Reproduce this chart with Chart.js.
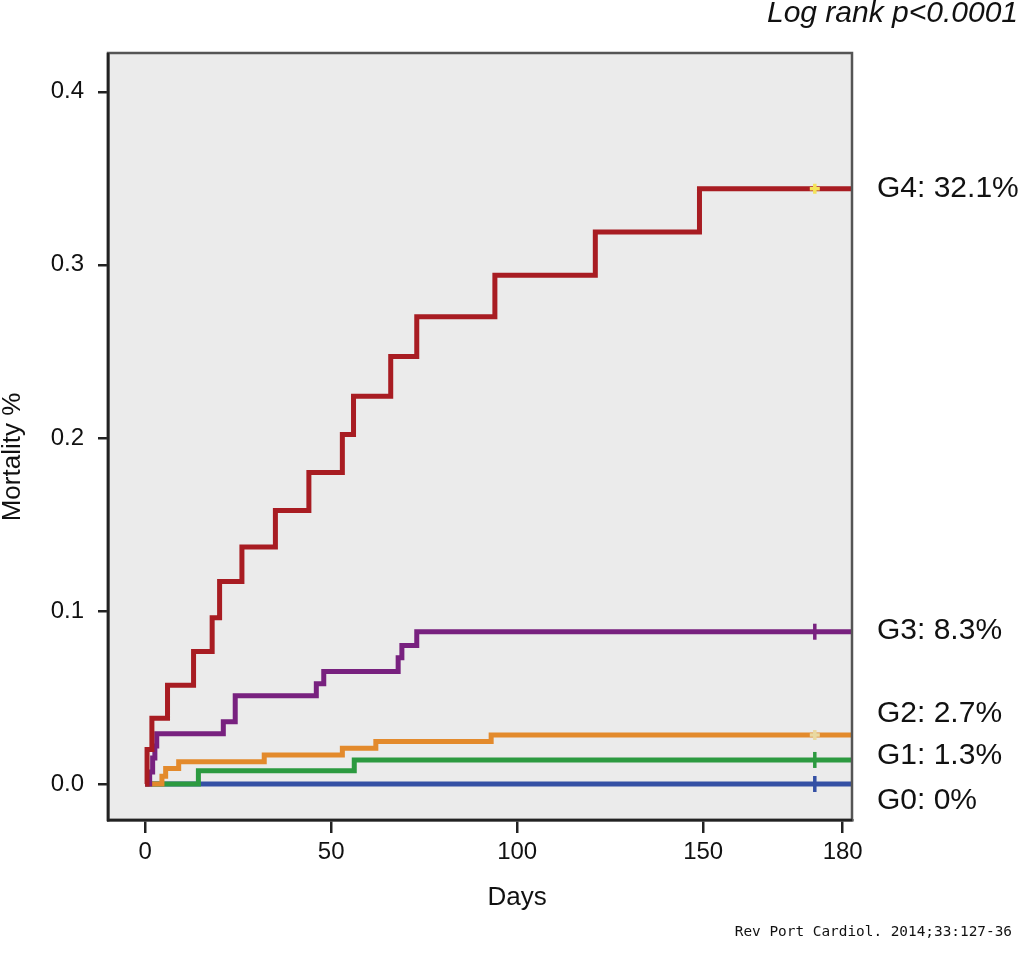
<!DOCTYPE html>
<html>
<head>
<meta charset="utf-8">
<script src="https://cdn.jsdelivr.net/npm/chart.js@4.4.1/dist/chart.umd.min.js"></script>
<style>
  html, body { margin: 0; padding: 0; background: #ffffff; }
  #wrap { position: relative; width: 1024px; height: 954px; }
</style>
</head>
<body>
<div id="wrap"><canvas id="c" width="1024" height="954"></canvas></div>
<script>
// ---- data ----
const groupNames = ['G4', 'G3', 'G2', 'G1', 'G0'];
const groupLabels = ['G4: 32.1%', 'G3: 8.3%', 'G2: 2.7%', 'G1: 1.3%', 'G0: 0%'];

const g4Days = [0, 0.5, 1.8, 6, 13, 18, 20, 26, 35, 44, 53, 56, 66, 73, 94, 121, 149, 190];
const g4Vals = [0, 0.020, 0.038, 0.057, 0.0765, 0.096, 0.117, 0.137, 0.158, 0.180, 0.202, 0.224, 0.247, 0.270, 0.294, 0.319, 0.344, 0.344];

const g3Days = [0, 1.2, 2.0, 2.6, 3.1, 21, 24.2, 46, 48, 68, 69, 73, 190];
const g3Vals = [0, 0.007, 0.015, 0.022, 0.029, 0.036, 0.051, 0.058, 0.065, 0.073, 0.080, 0.088, 0.088];

const g2Days = [0, 4.5, 5.5, 9, 32, 53, 62, 93, 190];
const g2Vals = [0, 0.0045, 0.009, 0.0129, 0.0168, 0.0206, 0.0245, 0.0283, 0.0283];

const g1Days = [0, 14.3, 56.2, 190];
const g1Vals = [0, 0.0077, 0.0139, 0.0139];

const g0Days = [0, 190];
const g0Vals = [0, 0];

const censorDay = 180;
const censorVals = [0.344, 0.088, 0.0283, 0.0139, 0];

const xTickValues = [0, 50, 100, 150, 187.5];
const xTickLabels = ['0', '50', '100', '150', '180'];
const yTickValues = [0, 0.1, 0.2, 0.3, 0.4];

const titleText = 'Log rank p<0.0001';
const xTitle = 'Days';
const yTitle = 'Mortality %';
const sourceText = 'Rev Port Cardiol. 2014;33:127-36';

// ---- styles ----
const lineColors = ['#a81c22', '#78217f', '#e38a2c', '#2c9a40', '#3450a4'];
const censorColors = ['#f4e35a', '#78217f', '#e9d9a2', '#2c9a40', '#3450a4'];
const censorStyles = ['cross', 'line', 'cross', 'line', 'line'];

const daysArr = [g4Days, g3Days, g2Days, g1Days, g0Days];
const valsArr = [g4Vals, g3Vals, g2Vals, g1Vals, g0Vals];

const datasets = [];
// censor marks first so they are drawn on top of the lines
groupNames.forEach((g, i) => {
  datasets.push({
    type: 'scatter',
    label: g + ' censored',
    data: [{ x: censorDay, y: censorVals[i] }],
    pointStyle: censorStyles[i],
    rotation: censorStyles[i] === 'line' ? 90 : 0,
    pointRadius: censorStyles[i] === 'line' ? 8 : 5,
    pointBorderWidth: 3.5,
    pointBorderColor: censorColors[i],
    pointBackgroundColor: censorColors[i],
    showLine: false
  });
});
groupNames.forEach((g, i) => {
  datasets.push({
    type: 'line',
    label: g,
    data: daysArr[i].map((d, k) => ({ x: d, y: valsArr[i][k] })),
    stepped: true,
    borderColor: lineColors[i],
    borderWidth: 5,
    pointRadius: 0,
    fill: false,
    borderCapStyle: 'butt',
    borderJoinStyle: 'miter'
  });
});

const deco = {
  id: 'deco',
  beforeDraw(chart) {
    const { ctx, chartArea: a } = chart;
    ctx.save();
    ctx.fillStyle = '#ebebeb';
    ctx.fillRect(a.left, a.top, a.right - a.left, a.bottom - a.top);
    ctx.restore();
  },
  afterDraw(chart) {
    const { ctx, chartArea: a, scales } = chart;
    const y = scales.y;
    ctx.save();
    // frame
    ctx.strokeStyle = '#555';
    ctx.lineWidth = 2.5;
    ctx.strokeRect(a.left, a.top, a.right - a.left, a.bottom - a.top);
    ctx.strokeStyle = '#222';
    ctx.beginPath();
    ctx.moveTo(a.left, a.top);
    ctx.lineTo(a.left, a.bottom);
    ctx.lineTo(a.right, a.bottom);
    ctx.stroke();

    ctx.fillStyle = '#111';
    // title
    ctx.font = 'italic 30px "Liberation Sans", Arial, sans-serif';
    ctx.textAlign = 'right';
    ctx.textBaseline = 'middle';
    ctx.fillText(titleText, 1018, 14);

    // group labels at right
    ctx.font = '30px "Liberation Sans", Arial, sans-serif';
    ctx.textAlign = 'left';
    const labelAt = [0.344, 0.0884, 0.0405, 0.0162, -0.0098];
    groupLabels.forEach((t, i) => {
      ctx.fillText(t, 877, y.getPixelForValue(labelAt[i]));
    });

    // axis titles
    ctx.font = '26px "Liberation Sans", Arial, sans-serif';
    ctx.textAlign = 'center';
    ctx.fillText(xTitle, (scales.x.getPixelForValue(100)), 898);
    ctx.save();
    ctx.translate(13, 457);
    ctx.rotate(-Math.PI / 2);
    ctx.fillText(yTitle, 0, 0);
    ctx.restore();

    // source
    ctx.font = '14.4px "DejaVu Sans Mono", monospace';
    ctx.textAlign = 'right';
    ctx.fillText(sourceText, 1012, 932);
    ctx.restore();
  }
};

new Chart(document.getElementById('c'), {
  data: { datasets },
  options: {
    responsive: false,
    animation: false,
    devicePixelRatio: 1,
    layout: { padding: { left: 0, right: 172, top: 53, bottom: 0 } },
    plugins: { legend: { display: false }, tooltip: { enabled: false } },
    scales: {
      x: {
        type: 'linear',
        min: -10,
        max: 190,
        afterBuildTicks: (s) => { s.ticks = xTickValues.map(v => ({ value: v })); },
        afterFit: (s) => { s.height = 134; },
        ticks: {
          callback: (v) => { const i = xTickValues.indexOf(v); return i >= 0 ? xTickLabels[i] : ''; },
          font: { size: 24, family: '"Liberation Sans", Arial, sans-serif' },
          color: '#111',
          padding: 5,
          maxRotation: 0,
          autoSkip: false
        },
        grid: { drawOnChartArea: false, drawTicks: true, tickLength: 13, color: '#222', lineWidth: 2.5 },
        border: { display: true, color: '#222', width: 2.5 }
      },
      y: {
        type: 'linear',
        min: -0.0208,
        max: 0.4224,
        afterBuildTicks: (s) => { s.ticks = yTickValues.map(v => ({ value: v })); },
        afterFit: (s) => { s.width = 108; },
        ticks: {
          callback: (v) => v.toFixed(1),
          font: { size: 24, family: '"Liberation Sans", Arial, sans-serif' },
          color: '#111',
          padding: 14
        },
        grid: { drawOnChartArea: false, drawTicks: true, tickLength: 10, color: '#222', lineWidth: 2.5 },
        border: { display: true, color: '#222', width: 2.5 }
      }
    }
  },
  plugins: [deco]
});
</script>
</body>
</html>
